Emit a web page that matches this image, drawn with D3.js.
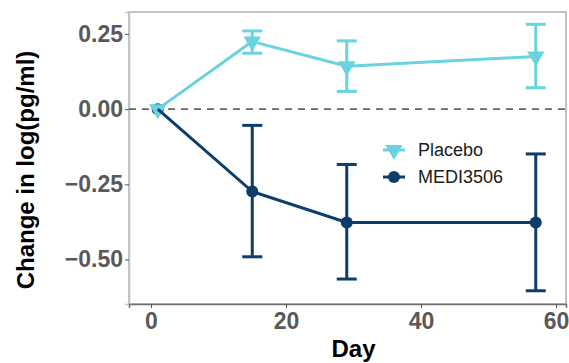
<!DOCTYPE html>
<html>
<head>
<meta charset="utf-8">
<script src="https://cdn.jsdelivr.net/npm/d3@7"></script>
<style>
  body { margin: 0; background: #fff; }
  svg { display: block; font-family: "Liberation Sans", Arial, sans-serif; }
</style>
</head>
<body>
<div class="display"></div>
<script>
// values
const days = [1, 15, 29, 57];
const placeboMean = [0, 0.225, 0.143, 0.175];
const placeboLow = [0, 0.186, 0.059, 0.071];
const placeboHigh = [0, 0.260, 0.227, 0.282];
const mediMean = [0, -0.274, -0.377, -0.377];
const mediLow = [0, -0.491, -0.565, -0.604];
const mediHigh = [0, -0.054, -0.184, -0.149];
const xTicks = [0, 20, 40, 60];
const yTicks = [0.25, 0, -0.25, -0.5];
const groups = ["Placebo", "MEDI3506"];

const colors = { Placebo: "#69d3df", MEDI3506: "#0c3d6b" };

const width = 569, height = 363;
const margin = { top: 12, right: 3, bottom: 59, left: 129 };
const innerWidth = width - margin.left - margin.right;
const innerHeight = height - margin.top - margin.bottom;

const svg = d3.select(".display").append("svg")
  .attr("width", width)
  .attr("height", height);

const g = svg.append("g").attr("transform", `translate(${margin.left},${margin.top})`);

//scales
const xScale = d3.scaleLinear().domain([-3.26, 61.48]).range([0, innerWidth]);
const yScale = d3.scaleLinear().domain([-0.648, 0.323]).range([innerHeight, 0]);

//panel border
g.append("rect")
  .attr("width", innerWidth)
  .attr("height", innerHeight)
  .attr("fill", "none")
  .attr("stroke", "#9a9a9a")
  .attr("stroke-width", 1.2);

//axes
const fmt = d => d === 0 ? "0.00" : d3.format(".2f")(d).replace("-", "\u2212");
const yaxis = d3.axisLeft(yScale).tickValues(yTicks).tickFormat(fmt).tickSize(4).tickPadding(2);
const xaxis = d3.axisBottom(xScale).tickValues(xTicks).tickFormat(d3.format("d")).tickSize(4).tickPadding(3);

const yg = g.append("g").call(yaxis);
const xg = g.append("g").attr("transform", `translate(0,${innerHeight})`).call(xaxis);
yg.select(".domain").attr("stroke", "#c4c4c4").attr("stroke-width", 1.5);
xg.select(".domain").attr("stroke", "#707070").attr("stroke-width", 1.5);
[yg, xg].forEach(ax => {
  ax.selectAll(".tick line").attr("stroke", "#555");
  ax.selectAll("text")
    .attr("fill", "#595959")
    .style("font-size", "23px")
    .style("font-weight", "bold");
});
xg.selectAll("text").attr("dy", "0.8em");

//axis titles
svg.append("text")
  .attr("transform", `translate(34,${margin.top + innerHeight / 2 + 12}) rotate(-90)`)
  .attr("text-anchor", "middle")
  .style("font-size", "24px")
  .style("font-weight", "bold")
  .attr("fill", "#000")
  .text("Change in log(pg/ml)");

svg.append("text")
  .attr("x", margin.left + xScale(30))
  .attr("y", 357)
  .attr("text-anchor", "middle")
  .style("font-size", "24px")
  .style("font-weight", "bold")
  .attr("fill", "#000")
  .text("Day");

//zero reference line
g.append("line")
  .attr("x1", 0).attr("x2", innerWidth)
  .attr("y1", yScale(0)).attr("y2", yScale(0))
  .attr("stroke", "#666")
  .attr("stroke-width", 1.6)
  .attr("stroke-dasharray", "7,6");

const series = [
  { name: "Placebo", mean: placeboMean, low: placeboLow, high: placeboHigh },
  { name: "MEDI3506", mean: mediMean, low: mediLow, high: mediHigh }
];

const line = d3.line().x(d => xScale(d.day)).y(d => yScale(d.v));
const triangle = d3.symbol().type(d3.symbolTriangle).size(130);
const capW = 10;

const pointLayer = g.append("g");
const markLayer = g.append("g");

series.forEach(s => {
  const pts = days.map((day, i) => ({ day, v: s.mean[i], lo: s.low[i], hi: s.high[i] }));
  const c = colors[s.name];
  const sg = markLayer.append("g");

  //error bars
  const eb = sg.selectAll(".eb").data(pts.filter(d => d.hi !== d.lo)).enter().append("g");
  eb.append("line")
    .attr("x1", d => xScale(d.day)).attr("x2", d => xScale(d.day))
    .attr("y1", d => yScale(d.lo)).attr("y2", d => yScale(d.hi))
    .attr("stroke", c).attr("stroke-width", 3);
  ["lo", "hi"].forEach(k => {
    eb.append("line")
      .attr("x1", d => xScale(d.day) - capW).attr("x2", d => xScale(d.day) + capW)
      .attr("y1", d => yScale(d[k])).attr("y2", d => yScale(d[k]))
      .attr("stroke", c).attr("stroke-width", 3);
  });

  sg.append("path")
    .datum(pts)
    .attr("d", line)
    .attr("fill", "none")
    .attr("stroke", c)
    .attr("stroke-width", 3);

  if (s.name === "Placebo") {
    sg.selectAll(".pt").data(pts).enter().append("path")
      .attr("d", triangle)
      .attr("transform", d => `translate(${xScale(d.day)},${yScale(d.v)}) rotate(180)`)
      .attr("fill", c);
  } else {
    //circles go under the placebo layer
    pointLayer.selectAll(".pt").data(pts).enter().append("circle")
      .attr("cx", d => xScale(d.day))
      .attr("cy", d => yScale(d.v))
      .attr("r", 6)
      .attr("fill", c);
  }
});

//legend
const legend = svg.append("g").attr("transform", "translate(383,150)");
groups.forEach((name, i) => {
  const lg = legend.append("g").attr("transform", `translate(0,${i * 27})`);
  const c = colors[name];
  lg.append("line").attr("x1", 0).attr("x2", 22).attr("stroke", c).attr("stroke-width", 3);
  if (name === "Placebo") {
    lg.append("path").attr("d", triangle).attr("transform", "translate(11,0) rotate(180)").attr("fill", c);
  } else {
    lg.append("circle").attr("cx", 11).attr("r", 6).attr("fill", c);
  }
  lg.append("text")
    .attr("x", 35)
    .attr("y", 6)
    .style("font-size", "18px")
    .attr("fill", "#1a1a1a")
    .text(name);
});
</script>
</body>
</html>
